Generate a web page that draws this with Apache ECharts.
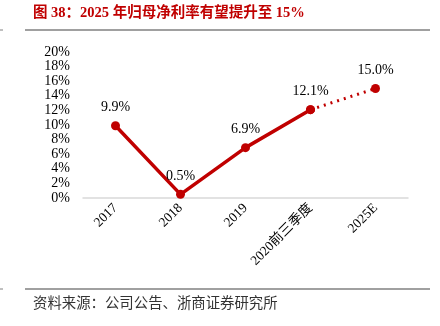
<!DOCTYPE html>
<html><head><meta charset="utf-8">
<script src="https://cdn.jsdelivr.net/npm/echarts@6/dist/echarts.min.js"></script>
<style>html,body{margin:0;padding:0;background:#fff}#c{width:440px;height:326px}</style>
</head><body><div id="c"></div>
<script>
var categories = ['2017', '2018', '2019', '2020前三季度', '2025E'];
var actualValues = [9.9, 0.5, 6.9, 12.1, null];
var forecastValues = [null, null, null, 12.1, 15.0];
var yTicks = [0, 20, 2];
var titleText = '图 38：2025 年归母净利率有望提升至 15%';
var sourceText = '资料来源：公司公告、浙商证券研究所';
var red = '#c00000';
var serif = '"Liberation Serif","DejaVu Serif",serif';
var chart = echarts.init(document.getElementById('c'));
chart.setOption({
  animation: false,
  grid: {left: 83, right: 32, top: 52, bottom: 128},
  xAxis: {
    type: 'category', data: categories, boundaryGap: true,
    axisLine: {lineStyle: {color: '#d9d9d9', width: 1.5}},
    axisTick: {show: false},
    axisLabel: {rotate: 45, color: '#000', fontFamily: serif + ',"Noto Sans CJK SC"', fontSize: 13.5, margin: 8, interval: 0}
  },
  yAxis: {
    type: 'value', min: yTicks[0], max: yTicks[1], interval: yTicks[2],
    axisLine: {show: false}, axisTick: {show: false}, splitLine: {show: false},
    axisLabel: {formatter: '{value}%', color: '#000', fontFamily: serif, fontSize: 14, margin: 13}
  },
  series: [
    {type: 'line', data: actualValues, symbol: 'circle', symbolSize: 9,
     lineStyle: {color: red, width: 3.5}, itemStyle: {color: red},
     label: {show: true, position: 'top', distance: 7, color: '#000', fontFamily: serif, fontSize: 14,
       formatter: function(p){ return p.dataIndex === 3 ? '' : p.value.toFixed(1) + '%'; }}},
    {type: 'line', data: forecastValues, symbol: 'circle', symbolSize: 9,
     lineStyle: {color: red, width: 3, type: [2, 5]}, itemStyle: {color: red},
     label: {show: true, position: 'top', distance: 7, color: '#000', fontFamily: serif, fontSize: 14,
       formatter: function(p){ return p.value.toFixed(1) + '%'; }}}
  ],
  graphic: [
    {type: 'text', left: 33, top: 6, style: {text: titleText, fill: red, font: 'bold 14.5px ' + serif + ',"Noto Sans CJK SC"'}},
    {type: 'line', shape: {x1: 25, y1: 30, x2: 430, y2: 30}, style: {stroke: '#808080', lineWidth: 1.5}},
    {type: 'line', shape: {x1: 0, y1: 30, x2: 3, y2: 30}, style: {stroke: '#808080', lineWidth: 1}},
    {type: 'line', shape: {x1: 25, y1: 289, x2: 430, y2: 289}, style: {stroke: '#808080', lineWidth: 1.5}},
    {type: 'line', shape: {x1: 0, y1: 289, x2: 3, y2: 289}, style: {stroke: '#808080', lineWidth: 1}},
    {type: 'text', left: 33, top: 295, style: {text: sourceText, fill: '#333', font: '14.4px "Noto Sans CJK SC"'}}
  ]
});
</script></body></html>
